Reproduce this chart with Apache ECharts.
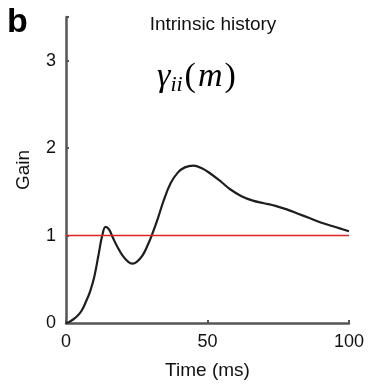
<!DOCTYPE html>
<html>
<head>
<meta charset="utf-8">
<style>
  html, body { margin: 0; padding: 0; background: #fff; }
  #chart { width: 373px; height: 389px; }
</style>
<script src="https://cdn.jsdelivr.net/npm/echarts@6/dist/echarts.min.js"></script>
</head>
<body>
<div id="chart"></div>
<script>
// gain curve: [time ms, gain]
var gainCurve = [
  [0, 0], [1, 0.01], [2.5, 0.04], [4, 0.08], [5.5, 0.14], [7, 0.24], [8.5, 0.36],
  [10, 0.53], [11.5, 0.78], [12.8, 1.0], [14, 1.1], [15.2, 1.07], [16.5, 0.98],
  [18, 0.88], [20, 0.77], [22, 0.7], [23.5, 0.68], [25, 0.7], [27, 0.77], [29, 0.9],
  [30.5, 1.02], [32.5, 1.2], [34.5, 1.4], [37, 1.6], [39.5, 1.72], [42, 1.78],
  [45, 1.8], [48, 1.77], [51, 1.71], [55, 1.61], [58, 1.53], [62, 1.45], [66, 1.4],
  [70, 1.37], [74, 1.34], [78, 1.3], [82, 1.25], [86, 1.2], [90, 1.15], [94, 1.11],
  [97, 1.08], [100, 1.05]
];
// reference level
var unityLine = [[0, 1], [100, 1]];
var xTicks = [0, 50, 100];
var yTicks = [0, 1, 2, 3];

var chart = echarts.init(document.getElementById('chart'));

var labelFont = 'Liberation Sans, Arial, sans-serif';
var serif = 'Liberation Serif, DejaVu Serif, serif';

var option = {
  animation: false,
  title: {
    text: 'Intrinsic history',
    left: 208,
    top: 10,
    textAlign: 'center',
    textStyle: { fontFamily: labelFont, fontSize: 19, fontWeight: 'normal', color: '#111' }
  },
  graphic: [
    {
      type: 'text', left: 7, top: 6,
      style: { text: 'b', font: 'bold 34px ' + labelFont, fill: '#000' }
    },
    {
      type: 'text', left: 157, top: 60,
      style: {
        text: '{g|γ}{s|ii}{p|(}{m|m}{p|)}',
        rich: {
          g: { fontFamily: serif, fontStyle: 'italic', fontSize: 34, color: '#0c0c3a' },
          s: { fontFamily: serif, fontStyle: 'italic', fontSize: 22, color: '#0c0c3a', padding: [16, 2, 0, 0] },
          p: { fontFamily: serif, fontSize: 34, color: '#0c0c3a' },
          m: { fontFamily: serif, fontStyle: 'italic', fontSize: 34, color: '#0c0c3a', padding: [0, 2, 0, 2] }
        }
      }
    }
  ],
  grid: { left: 66, right: 24, top: 17, bottom: 66 },
  xAxis: {
    type: 'value',
    min: xTicks[0],
    max: xTicks[xTicks.length - 1],
    interval: 50,
    name: 'Time (ms)',
    nameLocation: 'middle',
    nameGap: 38,
    nameTextStyle: { fontFamily: labelFont, fontSize: 19, color: '#111' },
    axisLine: { lineStyle: { color: '#555', width: 2.5 } },
    axisTick: { inside: true, length: 3, lineStyle: { color: '#555', width: 2 } },
    axisLabel: { fontFamily: labelFont, fontSize: 18, color: '#111', margin: 10 },
    splitLine: { show: false }
  },
  yAxis: {
    type: 'value',
    min: yTicks[0],
    max: 3.5,
    interval: 1,
    name: 'Gain',
    nameLocation: 'middle',
    nameGap: 33,
    nameTextStyle: { fontFamily: labelFont, fontSize: 19, color: '#111' },
    axisLine: { show: true, lineStyle: { color: '#555', width: 2.5 } },
    axisTick: { show: true, inside: true, length: 3, lineStyle: { color: '#555', width: 2 } },
    axisLabel: {
      fontFamily: labelFont, fontSize: 18, color: '#111', margin: 10,
      formatter: function (v) { return yTicks.indexOf(v) >= 0 ? String(v) : ''; }
    },
    splitLine: { show: false }
  },
  series: [
    {
      name: 'unity',
      type: 'line',
      data: unityLine,
      symbol: 'none',
      lineStyle: { color: '#e02424', width: 1.6 },
      z: 3
    },
    {
      name: 'gain',
      type: 'line',
      data: gainCurve,
      smooth: 0.4,
      symbol: 'none',
      lineStyle: { color: '#1e1e1e', width: 2.2 },
      z: 2
    }
  ]
};

chart.setOption(option);
</script>
</body>
</html>
